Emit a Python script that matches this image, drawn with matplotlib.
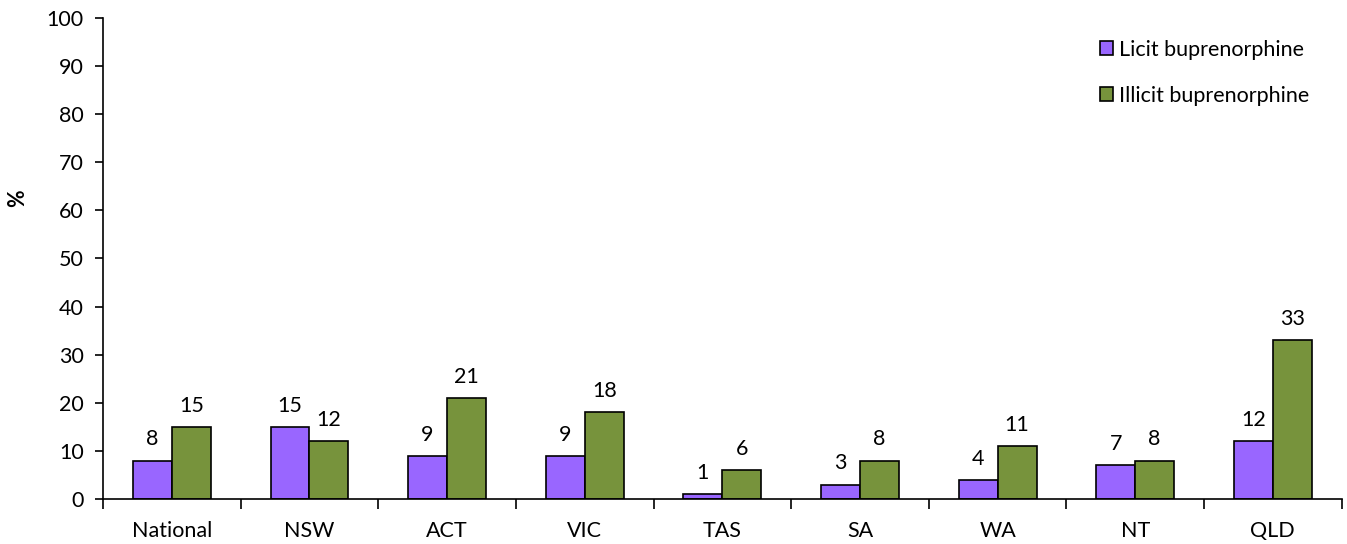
import matplotlib.pyplot as plt
import numpy as np

# Data
regions = ['National', 'NSW', 'ACT', 'VIC', 'TAS', 'SA', 'WA', 'NT', 'QLD']
licit = [8, 15, 9, 9, 1, 3, 4, 7, 12]
illicit = [15, 12, 21, 18, 6, 8, 11, 8, 33]

plt.rcParams['font.family'] = ['Lato', 'DejaVu Sans']
fs = 15.5

fig = plt.figure(figsize=(13.47, 5.44), dpi=100)
ax = fig.add_axes([0.0765, 0.0827, 0.9195, 0.8843])

x = np.arange(len(regions))
w = 0.283
b1 = ax.bar(x - w / 2, licit, w, color='#9966FF', edgecolor='black',
            linewidth=1.2, label='Licit buprenorphine')
b2 = ax.bar(x + w / 2, illicit, w, color='#77933C', edgecolor='black',
            linewidth=1.2, label='Illicit buprenorphine')

# Value labels above bars
for bars in (b1, b2):
    for rect in bars:
        ax.annotate(f'{rect.get_height():g}',
                    (rect.get_x() + rect.get_width() / 2, rect.get_height()),
                    xytext=(0, 8), textcoords='offset points',
                    ha='center', va='bottom', fontsize=fs)

ax.set_xlim(-0.5, len(regions) - 0.5)
ax.set_ylim(0, 100)
ax.set_yticks(range(0, 101, 10))
ax.tick_params(axis='y', labelsize=fs, length=6, width=1.2, direction='out',
               pad=8)

# Category labels centred, tick marks between categories
ax.set_xticks(x)
ax.set_xticklabels(regions, fontsize=fs)
ax.tick_params(axis='x', which='major', length=0, pad=16)
ax.set_xticks(np.arange(-0.5, len(regions)), minor=True)
ax.tick_params(axis='x', which='minor', length=7, width=1.2, direction='out')

for s in ['top', 'right']:
    ax.spines[s].set_visible(False)
for s in ['left', 'bottom']:
    ax.spines[s].set_linewidth(1.2)

fig.text(0.013, 0.635, '%', rotation=90, fontsize=fs, fontweight='bold',
         ha='center', va='center')

ax.legend(loc='upper left', bbox_to_anchor=(0.796, 0.977), frameon=False,
          fontsize=fs, handlelength=0.6, handleheight=0.6,
          handletextpad=0.3, labelspacing=1.2, borderpad=0)

fig.savefig('out.png', dpi=100)
